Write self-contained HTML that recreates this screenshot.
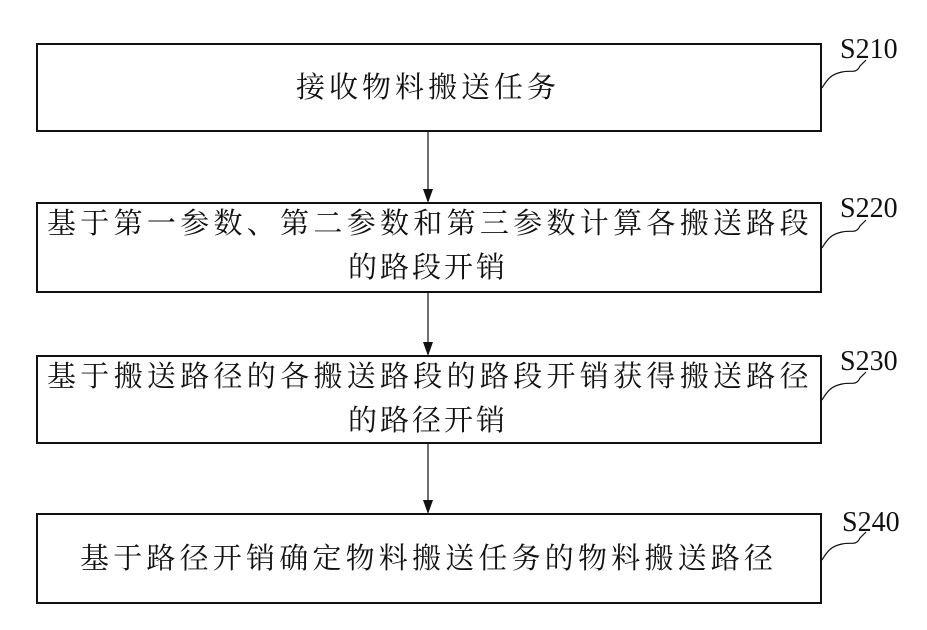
<!DOCTYPE html>
<html><head><meta charset="utf-8"><style>
body{margin:0;width:927px;height:630px;background:#fff;position:relative;overflow:hidden;font-family:"Liberation Serif","Noto Serif CJK SC",serif;}
.t{position:absolute;font-size:29px;color:#111;white-space:nowrap;line-height:1;}
</style></head><body>
<svg width="927" height="630" style="position:absolute;left:0;top:0" fill="none" stroke="#111">
<g stroke-width="2">
<rect x="37" y="44" width="784" height="87"/>
<rect x="37" y="203" width="784" height="89"/>
<rect x="37" y="356" width="784" height="87"/>
<rect x="37" y="514" width="784" height="89"/>
</g>
<g stroke-width="1.2">
<line x1="428" y1="131" x2="428" y2="195"/>
<line x1="428" y1="292" x2="428" y2="348"/>
<line x1="428" y1="443" x2="428" y2="506"/>
<path d="M822 88 C828 78,832 74,842 72 C852 70,856 74,860 66 L866 60"/>
<path d="M822 248 C828 238,832 234,842 232 C852 230,856 234,860 226 L866 220"/>
<path d="M822 400 C828 390,832 386,842 384 C852 382,856 386,860 378 L866 372"/>
<path d="M822 560 C828 550,832 546,842 544 C852 542,856 546,860 538 L866 532"/>
</g>
<g fill="#111" stroke="none">
<polygon points="423,189 433,189 428,203"/>
<polygon points="423,342 433,342 428,356"/>
<polygon points="423,500 433,500 428,514"/>
</g>
<g fill="#111" stroke="none" font-family="Liberation Serif, serif" font-size="28">
<text x="840" y="58">S210</text>
<text x="840" y="217">S220</text>
<text x="840" y="370">S230</text>
<text x="842" y="531">S240</text>
</g>
</svg>
<div class="t" style="left:296px;top:74px;letter-spacing:4px">接收物料搬送任务</div>
<div class="t" style="left:47px;top:210px;letter-spacing:4.3px">基于第一参数、第二参数和第三参数计算各搬送路段</div>
<div class="t" style="left:348px;top:254px;letter-spacing:3px">的路段开销</div>
<div class="t" style="left:47px;top:363px;letter-spacing:4.3px">基于搬送路径的各搬送路段的路段开销获得搬送路径</div>
<div class="t" style="left:348px;top:407px;letter-spacing:3px">的路径开销</div>
<div class="t" style="left:80px;top:545px;letter-spacing:4.2px">基于路径开销确定物料搬送任务的物料搬送路径</div>
</body></html>
